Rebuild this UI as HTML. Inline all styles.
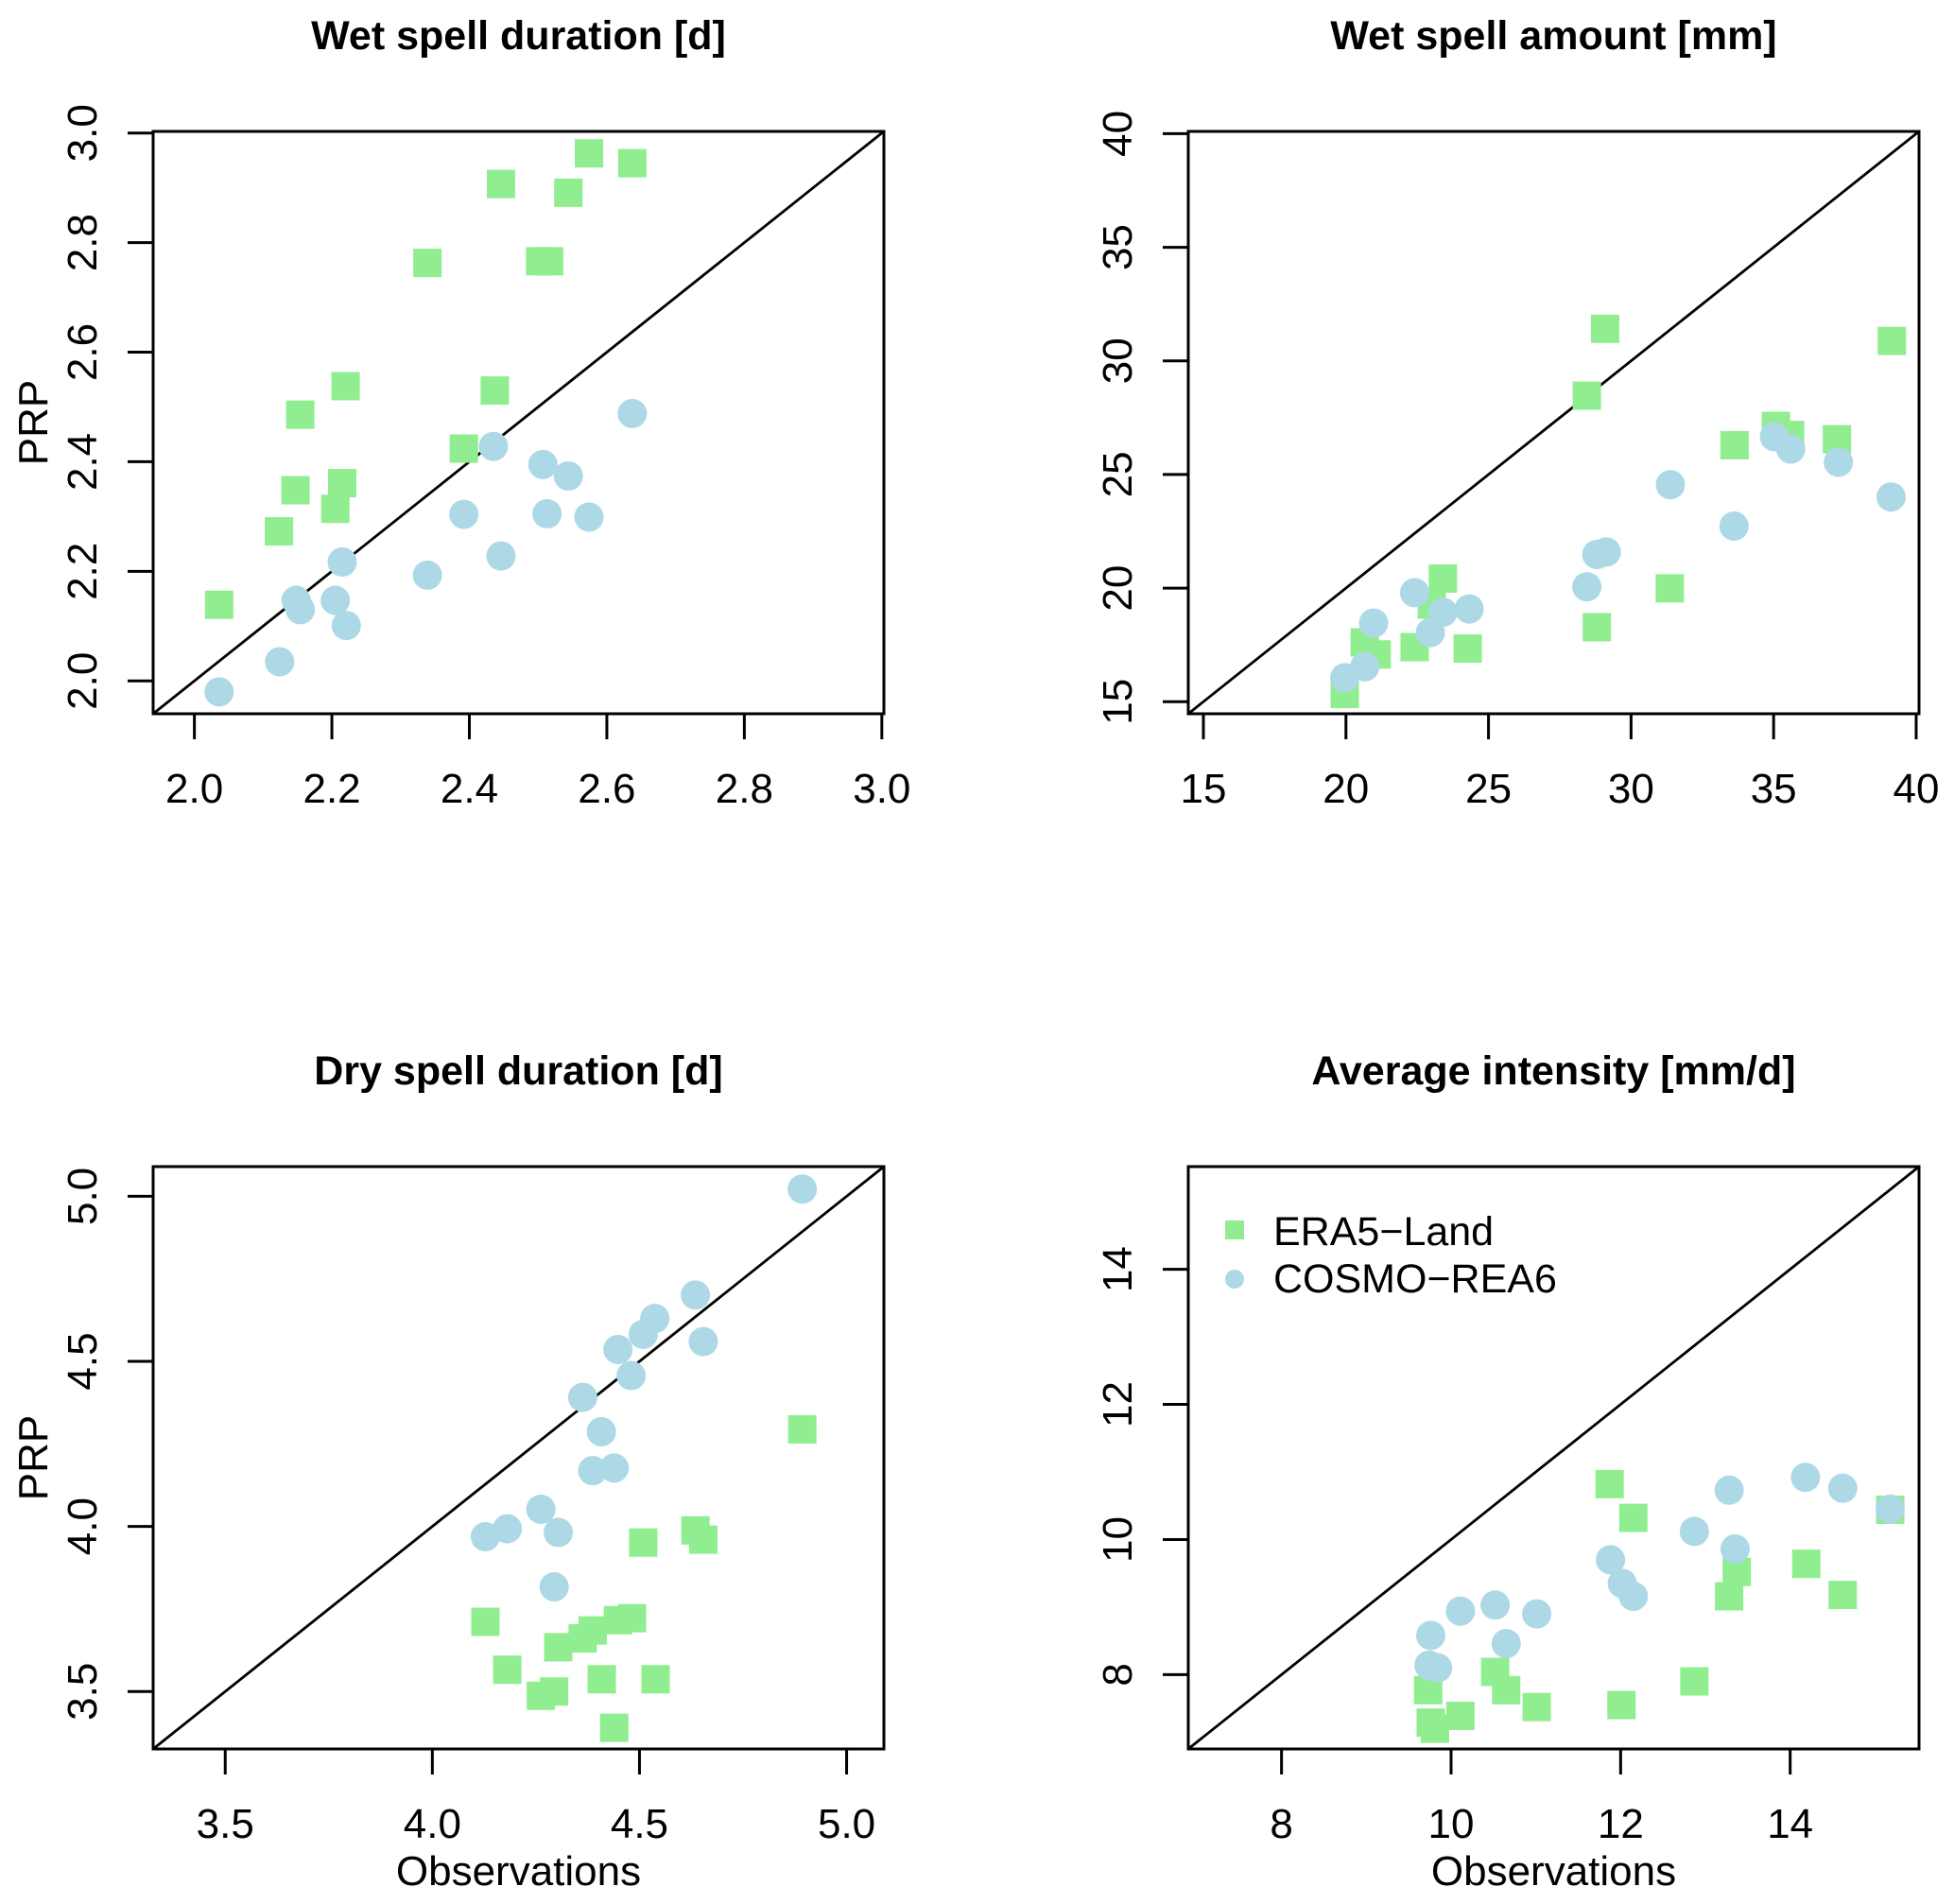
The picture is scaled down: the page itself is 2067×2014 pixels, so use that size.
<!DOCTYPE html>
<html><head><meta charset="utf-8">
<style>
html,body{margin:0;padding:0;background:#fff;}
svg{display:block;font-family:"Liberation Sans",Arial,sans-serif;}
</style></head>
<body>
<svg id="chart" width="2067" height="2014" viewBox="0 0 2067 2014" xmlns="http://www.w3.org/2000/svg"></svg>
<script>
// Panel 1: Wet spell duration
const p1EraX = [2.574,2.637,2.446,2.544,2.339,2.503,2.516,2.220,2.437,2.154,2.392,2.147,2.215,2.205,2.123,2.036];
const p1EraY = [2.963,2.945,2.907,2.891,2.763,2.766,2.766,2.538,2.530,2.486,2.424,2.348,2.361,2.314,2.273,2.139];
const p1CosX = [2.637,2.435,2.507,2.544,2.392,2.513,2.574,2.446,2.339,2.215,2.148,2.205,2.154,2.221,2.124,2.036];
const p1CosY = [2.488,2.428,2.395,2.374,2.304,2.305,2.299,2.228,2.193,2.217,2.147,2.147,2.130,2.101,2.035,1.980];
const p1Ticks = ["2.0","2.2","2.4","2.6","2.8","3.0"];
// Panel 2: Wet spell amount
const p2EraX = [29.09,39.15,28.45,35.08,35.58,37.22,33.63,23.40,23.01,31.36,28.80,20.66,21.08,22.41,24.27,19.96];
const p2EraY = [31.41,30.88,28.47,27.14,26.74,26.55,26.29,20.42,19.27,19.99,18.28,17.61,17.08,17.40,17.34,15.34];
const p2CosX = [35.03,35.60,37.27,31.38,39.12,33.61,28.80,29.13,28.45,22.41,20.97,23.40,24.32,22.96,20.66,19.96];
const p2CosY = [26.66,26.12,25.54,24.55,24.01,22.73,21.48,21.59,20.06,19.80,18.46,18.94,19.08,18.04,16.54,16.06];
const p2Ticks = ["15","20","25","30","35","40"];
// Panel 3: Dry spell duration
const p3EraX = [4.893,4.635,4.654,4.509,4.128,4.482,4.448,4.387,4.363,4.304,4.181,4.409,4.539,4.294,4.262,4.439];
const p3EraY = [4.294,3.988,3.960,3.951,3.711,3.722,3.716,3.685,3.661,3.634,3.566,3.537,3.537,3.500,3.487,3.390];
const p3CosX = [4.893,4.635,4.537,4.509,4.654,4.448,4.480,4.363,4.408,4.387,4.439,4.262,4.181,4.304,4.128,4.294];
const p3CosY = [5.022,4.701,4.630,4.582,4.560,4.536,4.457,4.391,4.287,4.169,4.177,4.052,3.993,3.982,3.969,3.817];
const p3Ticks = ["3.5","4.0","4.5","5.0"];
// Panel 4: Average intensity
const p4EraX = [11.87,12.15,15.18,13.37,14.19,13.28,14.62,10.52,10.65,9.73,12.87,10.11,11.01,12.01,9.76,9.81];
const p4EraY = [10.82,10.32,10.44,9.52,9.64,9.16,9.18,8.04,7.77,7.77,7.90,7.39,7.52,7.55,7.29,7.20];
const p4CosX = [14.18,14.62,13.28,15.18,12.87,13.35,11.88,12.02,12.15,10.52,10.11,11.01,10.65,9.76,9.74,9.84];
const p4CosY = [10.92,10.76,10.73,10.45,10.12,9.86,9.70,9.35,9.16,9.03,8.94,8.90,8.46,8.58,8.14,8.10];
const p4Ticks = ["8","10","12","14"];

const NS = "http://www.w3.org/2000/svg";
const svg = document.getElementById("chart");
function mk(tag, attrs, parent){
  const e = document.createElementNS(NS, tag);
  for (const k in attrs) e.setAttribute(k, attrs[k]);
  (parent||svg).appendChild(e);
  return e;
}
const GREEN = "#90EE90", BLUE = "#ADD8E6";
const W = 773, H = 616;

function panel(cfg){
  const g = mk("g", {});
  
  
  const L = cfg.left, T = cfg.top, R = L + W, B = T + H;
  const lo = cfg.lim[0], hi = cfg.lim[1];
  const sx = v => L + (v - lo) / (hi - lo) * W;
  const sy = v => B - (v - lo) / (hi - lo) * H;

  const title = mk("text", {x: L + W/2, y: T - 87, "text-anchor": "middle", "font-size": 43, "font-weight": "bold"}, g);
  title.textContent = cfg.title;
  
  

  const diag = mk("line", {x1: sx(lo), y1: sy(lo), x2: sx(hi), y2: sy(hi), stroke: "#000", "stroke-width": 2.8}, g);
  
  

  for (let i = 0; i < cfg.eraX.length; i++){
    const s = 30;
    const r = mk("rect", {x: sx(cfg.eraX[i]) - s/2, y: sy(cfg.eraY[i]) - s/2, width: s, height: s, fill: GREEN}, g);
    
    
  }
  for (let i = 0; i < cfg.cosX.length; i++){
    const c = mk("circle", {cx: sx(cfg.cosX[i]), cy: sy(cfg.cosY[i]), r: 15.5, fill: BLUE}, g);
    
    
  }

  const box = mk("rect", {x: L, y: T, width: W, height: H, fill: "none", stroke: "#000", "stroke-width": 3}, g);
  
  

  const tv = cfg.ticks.map(Number);
  const xa = mk("line", {x1: sx(tv[0]), y1: B, x2: sx(tv[tv.length-1]), y2: B, stroke: "#000", "stroke-width": 3}, g);
  
  
  const ya = mk("line", {x1: L, y1: sy(tv[0]), x2: L, y2: sy(tv[tv.length-1]), stroke: "#000", "stroke-width": 3}, g);
  
  
  cfg.ticks.forEach((lab, i) => {
    const v = tv[i];
    const t1 = mk("line", {x1: sx(v), y1: B, x2: sx(v), y2: B + 27, stroke: "#000", "stroke-width": 3}, g);
    
    
    const l1 = mk("text", {x: sx(v), y: B + 94, "text-anchor": "middle", "font-size": 44}, g);
    l1.textContent = lab;
    
    
    const t2 = mk("line", {x1: L - 27, y1: sy(v), x2: L, y2: sy(v), stroke: "#000", "stroke-width": 3}, g);
    
    
    const yy = sy(v);
    const l2 = mk("text", {x: L - 60, y: yy, "text-anchor": "middle", "font-size": 44, transform: "rotate(-90 " + (L - 60) + " " + yy + ")"}, g);
    l2.textContent = lab;
    
    
  });
  if (cfg.ylab){
    const cx = L - 112, cy = T + H/2;
    const yl = mk("text", {x: cx, y: cy, "text-anchor": "middle", "font-size": 44, transform: "rotate(-90 " + cx + " " + cy + ")"}, g);
    yl.textContent = "PRP";
    
    
  }
  if (cfg.xlab){
    const xl = mk("text", {x: L + W/2, y: B + 144, "text-anchor": "middle", "font-size": 44}, g);
    xl.textContent = "Observations";
    
    
  }
  if (cfg.legend){
    const lg = mk("g", {}, g);
    
    
    const sq = mk("rect", {x: 1296, y: 1291, width: 20, height: 20, fill: GREEN}, lg);
    
    
    const t1 = mk("text", {x: 1347, y: 1317, "font-size": 43}, lg);
    t1.textContent = "ERA5\u2212Land";
    
    
    const ci = mk("circle", {cx: 1306, cy: 1353, r: 10, fill: BLUE}, lg);
    
    
    const t2 = mk("text", {x: 1347, y: 1367, "font-size": 43}, lg);
    t2.textContent = "COSMO\u2212REA6";
    
    
  }
}

panel({name: "wet-spell-duration-panel", title: "Wet spell duration [d]", left: 162, top: 139, lim: [1.94, 3.003],
  eraX: p1EraX, eraY: p1EraY, cosX: p1CosX, cosY: p1CosY, ticks: p1Ticks, ylab: true});
panel({name: "wet-spell-amount-panel", title: "Wet spell amount [mm]", left: 1257, top: 139, lim: [14.47, 40.1],
  eraX: p2EraX, eraY: p2EraY, cosX: p2CosX, cosY: p2CosY, ticks: p2Ticks});
panel({name: "dry-spell-duration-panel", title: "Dry spell duration [d]", left: 162, top: 1234, lim: [3.326, 5.09],
  eraX: p3EraX, eraY: p3EraY, cosX: p3CosX, cosY: p3CosY, ticks: p3Ticks, ylab: true, xlab: true});
panel({name: "average-intensity-panel", title: "Average intensity [mm/d]", left: 1257, top: 1234, lim: [6.9, 15.52],
  eraX: p4EraX, eraY: p4EraY, cosX: p4CosX, cosY: p4CosY, ticks: p4Ticks, xlab: true, legend: true});
</script>
</body></html>
